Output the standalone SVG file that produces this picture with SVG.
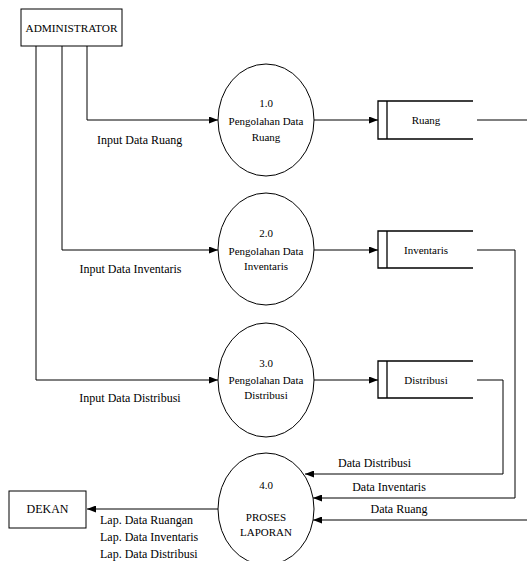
<svg xmlns="http://www.w3.org/2000/svg" width="527" height="561" viewBox="0 0 527 561">
<style>
.lbl{font-family:"Liberation Serif","DejaVu Serif",serif;font-size:12px;fill:#000}
.in{font-family:"Liberation Serif","DejaVu Serif",serif;font-size:11px;text-anchor:middle;fill:#000}
.box{fill:#fff;stroke:#000;stroke-width:1}
.proc{fill:#fff;stroke:#000;stroke-width:1}
.store{fill:none;stroke:#000;stroke-width:1.3}
.flow{fill:none;stroke:#000;stroke-width:1}
.arr{marker-end:url(#ah)}
</style>
<defs>
<marker id="ah" markerUnits="userSpaceOnUse" markerWidth="9" markerHeight="7" refX="9" refY="3.5" orient="auto">
<path d="M0,0 L9,3.5 L0,7 z" fill="#000"/>
</marker>
</defs>
<rect width="527" height="561" fill="#fff"/>
<g id="connectors">
<polyline class="flow arr" points="87,46 87,120 218,120"/>
<polyline class="flow arr" points="62,46 62,250 218,250"/>
<polyline class="flow arr" points="36,46 36,380 218,380"/>
<line class="flow arr" x1="314" y1="120" x2="378" y2="120"/>
<line class="flow arr" x1="314" y1="250" x2="378" y2="250"/>
<line class="flow arr" x1="314" y1="380" x2="378" y2="380"/>
<line class="flow" x1="477" y1="120" x2="527" y2="120"/>
<polyline class="flow arr" points="477,250 515,250 515,498 313,498"/>
<polyline class="flow arr" points="477,380 503,380 503,474 305,474"/>
<line class="flow arr" x1="527" y1="520" x2="313" y2="520"/>
<line class="flow arr" x1="218" y1="509" x2="87" y2="509"/>
<text class="lbl" x="97" y="144">Input Data Ruang</text>
<text class="lbl" x="130.5" y="273" text-anchor="middle">Input Data Inventaris</text>
<text class="lbl" x="130" y="402" text-anchor="middle">Input Data Distribusi</text>
<text class="lbl" x="374.5" y="467" text-anchor="middle">Data Distribusi</text>
<text class="lbl" x="389" y="491" text-anchor="middle">Data Inventaris</text>
<text class="lbl" x="399" y="513" text-anchor="middle">Data Ruang</text>
<text class="lbl" x="100" y="524">Lap. Data Ruangan</text>
<text class="lbl" x="100" y="541">Lap. Data Inventaris</text>
<text class="lbl" x="100" y="558">Lap. Data Distribusi</text>
</g>
<g id="administrator">
<rect class="box" x="21" y="9" width="101" height="37"/>
<text class="in" x="71.5" y="32" textLength="92" lengthAdjust="spacingAndGlyphs">ADMINISTRATOR</text>
</g>
<g id="dekan">
<rect class="box" x="9" y="491" width="77" height="37"/>
<text class="lbl" x="47.5" y="513" text-anchor="middle">DEKAN</text>
</g>
<g id="p1">
<ellipse class="proc" cx="266" cy="120" rx="48" ry="56"/>
<text class="in" x="266" y="107">1.0</text>
<text class="in" x="266" y="125">Pengolahan Data</text>
<text class="in" x="266" y="141">Ruang</text>
</g>
<g id="p2">
<ellipse class="proc" cx="266" cy="249" rx="48" ry="56"/>
<text class="in" x="266" y="237">2.0</text>
<text class="in" x="266" y="255">Pengolahan Data</text>
<text class="in" x="266" y="270">Inventaris</text>
</g>
<g id="p3">
<ellipse class="proc" cx="266" cy="380" rx="48" ry="57"/>
<text class="in" x="266" y="367">3.0</text>
<text class="in" x="266" y="384">Pengolahan Data</text>
<text class="in" x="266" y="399">Distribusi</text>
</g>
<g id="p4">
<ellipse class="proc" cx="266" cy="509" rx="48" ry="56"/>
<text class="in" x="266" y="489">4.0</text>
<text class="in" x="266" y="521">PROSES</text>
<text class="in" x="266" y="536">LAPORAN</text>
</g>
<g id="ds-ruang">
<path class="store" d="M473,101 H378 V139 H473 M387,101 V139"/>
<text class="in" x="426" y="124">Ruang</text>
</g>
<g id="ds-inventaris">
<path class="store" d="M473,231 H378 V268 H473 M387,231 V268"/>
<text class="in" x="426" y="254">Inventaris</text>
</g>
<g id="ds-distribusi">
<path class="store" d="M473,361 H378 V398 H473 M387,361 V398"/>
<text class="in" x="426" y="384">Distribusi</text>
</g>
</svg>
